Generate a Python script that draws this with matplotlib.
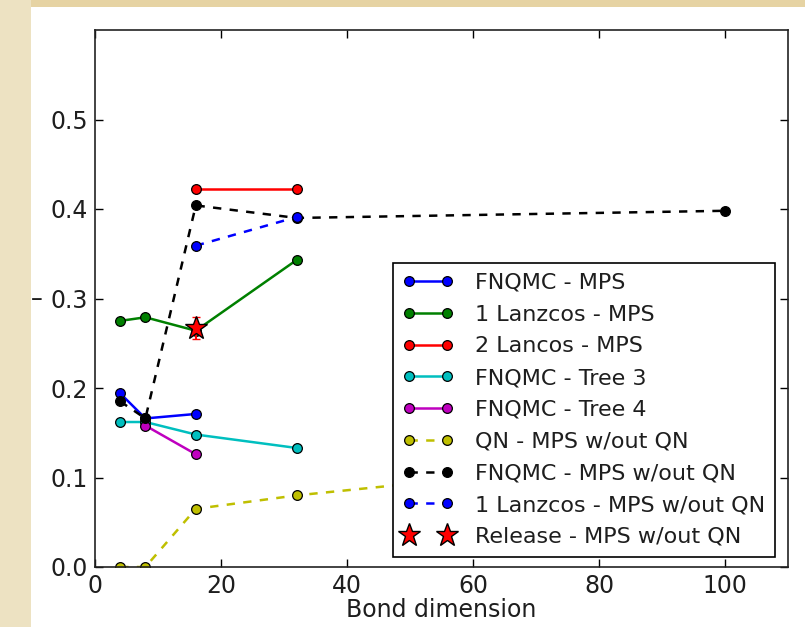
import matplotlib
matplotlib.use("Agg")
import matplotlib.pyplot as plt
from matplotlib.patches import Rectangle

# data
fnqmc_mps_x = [4, 8, 16]
fnqmc_mps_y = [0.194, 0.166, 0.171]

lanczos1_mps_x = [4, 8, 16, 32]
lanczos1_mps_y = [0.275, 0.279, 0.264, 0.343]

lancos2_mps_x = [16, 32]
lancos2_mps_y = [0.422, 0.422]

tree3_x = [4, 8, 16, 32]
tree3_y = [0.162, 0.162, 0.148, 0.133]

tree4_x = [8, 16]
tree4_y = [0.158, 0.126]

qn_noqn_x = [4, 8, 16, 32, 64, 100]
qn_noqn_y = [0.0, 0.0, 0.065, 0.080, 0.103, 0.120]

fnqmc_noqn_x = [4, 8, 16, 32, 100]
fnqmc_noqn_y = [0.185, 0.166, 0.404, 0.390, 0.398]

lanczos1_noqn_x = [16, 32]
lanczos1_noqn_y = [0.359, 0.391]

release_x = [16]
release_y = [0.267]
release_err = [0.012]

FS = 17
TXT = '#1e1e1e'

plt.rcParams['font.family'] = ['DejaVu Sans']
plt.rcParams['lines.scale_dashes'] = False
plt.rcParams['lines.dashed_pattern'] = [6, 6]

W, H = 805, 627
fig = plt.figure(figsize=(W / 100, H / 100), dpi=100)
fig.patch.set_facecolor('#E6D3A3')
# lighter strip on the left, white page
fig.patches.append(Rectangle((0, 0), 31 / W, 1, transform=fig.transFigure,
                             facecolor='#EDE2C2', edgecolor='none', zorder=-10))
fig.patches.append(Rectangle((31 / W, 0), 1 - 31 / W, 1 - 7 / H, transform=fig.transFigure,
                             facecolor='white', edgecolor='none', zorder=-10))

ax = fig.add_axes([95 / W, 1 - 567 / H, 693 / W, 537 / H])

mk = dict(marker='o', ms=7, mec='black', mew=0.9, lw=1.8)
ax.plot(fnqmc_mps_x, fnqmc_mps_y, color='b', label='FNQMC - MPS', **mk)
ax.plot(lanczos1_mps_x, lanczos1_mps_y, color='g', label='1 Lanzcos - MPS', **mk)
ax.plot(lancos2_mps_x, lancos2_mps_y, color='r', label='2 Lancos - MPS', **mk)
ax.plot(tree3_x, tree3_y, color='c', label='FNQMC - Tree 3', **mk)
ax.plot(tree4_x, tree4_y, color='m', label='FNQMC - Tree 4', **mk)
ax.plot(qn_noqn_x, qn_noqn_y, color='y', ls='--', label='QN - MPS w/out QN', **mk)
ax.plot(fnqmc_noqn_x, fnqmc_noqn_y, color='k', ls='--', label='FNQMC - MPS w/out QN', **mk)
ax.plot(lanczos1_noqn_x, lanczos1_noqn_y, color='b', ls='--', label='1 Lanzcos - MPS w/out QN', **mk)
ax.errorbar(release_x, release_y, yerr=release_err, fmt='none', ecolor='r', capsize=3, lw=1.5)
ax.plot(release_x, release_y, ls='none', marker='*', ms=17, color='r', mec='black', mew=1,
        label='Release - MPS w/out QN')

ax.set_xlim(0, 110)
ax.set_ylim(0, 0.6)
ax.set_xticks([0, 20, 40, 60, 80, 100])
ax.set_yticks([0.0, 0.1, 0.2, 0.3, 0.4, 0.5])
ax.set_yticklabels(['0.0', '0.1', '0.2', '0.3', '0.4', '0.5'])
ax.tick_params(direction='in', top=True, right=True, length=6, width=1,
               labelsize=FS, pad=5, labelcolor=TXT)
for s in ax.spines.values():
    s.set_linewidth(1.2)
    s.set_color('#222222')
ax.set_xlabel('Bond dimension', fontsize=FS, labelpad=0, color=TXT)

leg = ax.legend(loc='lower right', bbox_to_anchor=(680 / 693, 10 / 537), borderaxespad=0,
                numpoints=2, fontsize=16, fancybox=False, framealpha=1,
                edgecolor='black', handlelength=2.3, labelspacing=0.53,
                borderpad=0.45, handletextpad=0.95)
leg.get_frame().set_linewidth(1.2)
for t in leg.get_texts():
    t.set_color(TXT)

fig.text(37 / W, 1 - 299 / H, '\u2013', fontsize=FS, ha='center', va='center', color=TXT)

fig.savefig('out.png', dpi=100, facecolor=fig.get_facecolor())
